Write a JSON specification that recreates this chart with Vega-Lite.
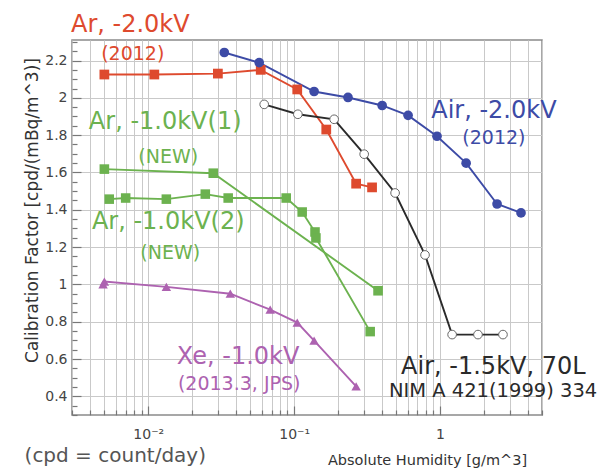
{
  "$schema": "https://vega.github.io/schema/vega-lite/v6.json",
  "autosize": {"type": "none"},
  "padding": {"left": 72, "top": 40, "right": 63, "bottom": 58},
  "width": 470,
  "height": 375,
  "background": "white",
  "config": {
    "font": "DejaVu Sans",
    "view": {"stroke": "#8a8a8a", "strokeWidth": 1.5}
  },
  "datasets": {
    "pts": [
      {"s": "ArA", "x": 0.005, "y": 2.125},
      {"s": "ArA", "x": 0.011, "y": 2.125},
      {"s": "ArA", "x": 0.030, "y": 2.13},
      {"s": "ArA", "x": 0.059, "y": 2.15},
      {"s": "ArA", "x": 0.105, "y": 2.045},
      {"s": "ArA", "x": 0.166, "y": 1.83},
      {"s": "ArA", "x": 0.266, "y": 1.54},
      {"s": "ArA", "x": 0.342, "y": 1.52},
      {"s": "AirA", "x": 0.0332, "y": 2.243},
      {"s": "AirA", "x": 0.0576, "y": 2.189},
      {"s": "AirA", "x": 0.137, "y": 2.034},
      {"s": "AirA", "x": 0.234, "y": 2.002},
      {"s": "AirA", "x": 0.401, "y": 1.959},
      {"s": "AirA", "x": 0.604, "y": 1.906},
      {"s": "AirA", "x": 0.953, "y": 1.794},
      {"s": "AirA", "x": 1.51, "y": 1.65},
      {"s": "AirA", "x": 2.46, "y": 1.431},
      {"s": "AirA", "x": 3.59, "y": 1.383},
      {"s": "AirB", "x": 0.0623, "y": 1.965},
      {"s": "AirB", "x": 0.106, "y": 1.912},
      {"s": "AirB", "x": 0.188, "y": 1.885},
      {"s": "AirB", "x": 0.302, "y": 1.698},
      {"s": "AirB", "x": 0.492, "y": 1.49},
      {"s": "AirB", "x": 0.789, "y": 1.158},
      {"s": "AirB", "x": 1.21, "y": 0.731},
      {"s": "AirB", "x": 1.82, "y": 0.731},
      {"s": "AirB", "x": 2.70, "y": 0.731},
      {"s": "Ar1", "x": 0.0050, "y": 1.618},
      {"s": "Ar1", "x": 0.0279, "y": 1.596},
      {"s": "Ar1", "x": 0.376, "y": 0.966},
      {"s": "Ar2", "x": 0.0054, "y": 1.457},
      {"s": "Ar2", "x": 0.0070, "y": 1.463},
      {"s": "Ar2", "x": 0.0133, "y": 1.457},
      {"s": "Ar2", "x": 0.0246, "y": 1.484},
      {"s": "Ar2", "x": 0.0353, "y": 1.463},
      {"s": "Ar2", "x": 0.0882, "y": 1.463},
      {"s": "Ar2", "x": 0.1135, "y": 1.388},
      {"s": "Ar2", "x": 0.139, "y": 1.281},
      {"s": "Ar2", "x": 0.141, "y": 1.249},
      {"s": "Ar2", "x": 0.332, "y": 0.747},
      {"s": "Xe", "x": 0.0049, "y": 1.0},
      {"s": "Xe", "x": 0.0050, "y": 1.015},
      {"s": "Xe", "x": 0.0133, "y": 0.987},
      {"s": "Xe", "x": 0.0365, "y": 0.95},
      {"s": "Xe", "x": 0.0685, "y": 0.865},
      {"s": "Xe", "x": 0.105, "y": 0.795},
      {"s": "Xe", "x": 0.137, "y": 0.699},
      {"s": "Xe", "x": 0.266, "y": 0.453}
    ],
    "ann": [
      {"s": "ArA", "k": "main", "x": 0.00753, "y": 2.392, "t": "Ar, -2.0kV"},
      {"s": "ArA", "k": "sub", "x": 0.00783, "y": 2.237, "t": "(2012)"},
      {"s": "Ar1", "k": "main", "x": 0.01306, "y": 1.869, "t": "Ar, -1.0kV(1)"},
      {"s": "Ar1", "k": "sub", "x": 0.01371, "y": 1.682, "t": "(NEW)"},
      {"s": "Ar2", "k": "main", "x": 0.0137, "y": 1.335, "t": "Ar, -1.0kV(2)"},
      {"s": "Ar2", "k": "sub", "x": 0.01415, "y": 1.169, "t": "(NEW)"},
      {"s": "Xe", "k": "main", "x": 0.0413, "y": 0.613, "t": "Xe, -1.0kV"},
      {"s": "Xe", "k": "sub", "x": 0.042, "y": 0.464, "t": "(2013.3, JPS)"},
      {"s": "AirA", "k": "main", "x": 2.34, "y": 1.928, "t": "Air, -2.0kV"},
      {"s": "AirA", "k": "sub", "x": 2.34, "y": 1.783, "t": "(2012)"},
      {"s": "AirB", "k": "main", "x": 2.32, "y": 0.555, "t": "Air, -1.5kV, 70L"},
      {"s": "AirB", "k": "ref", "x": 2.31, "y": 0.426, "t": "NIM A 421(1999) 334"},
      {"s": "note", "k": "note", "x": 0.00594, "y": 0.079, "t": "(cpd = count/day)"}
    ]
  },
  "encoding": {
    "x": {
      "field": "x", "type": "quantitative",
      "scale": {"type": "log", "domain": [0.003, 5], "nice": false},
      "axis": {
        "values": [0.003, 0.004, 0.005, 0.006, 0.007, 0.008, 0.009, 0.01, 0.02, 0.03, 0.04, 0.05, 0.06, 0.07, 0.08, 0.09, 0.1, 0.2, 0.3, 0.4, 0.5, 0.6, 0.7, 0.8, 0.9, 1, 2, 3, 4, 5],
        "labelExpr": "datum.value == 0.01 ? '10⁻²' : datum.value == 0.1 ? '10⁻¹' : datum.value == 1 ? '1' : ''",
        "grid": true,
        "gridColor": "#c9c9c9",
        "gridWidth": 1,
        "domain": false,
        "tickColor": "#777",
        "tickWidth": 1.2,
        "tickSize": {"condition": {"test": "datum.value == 0.01 || datum.value == 0.1 || datum.value == 1", "value": -9}, "value": -5},
        "labelPadding": 21,
        "labelFontSize": 14,
        "labelColor": "#444",
        "labelFlush": false,
        "labelOverlap": false,
        "title": "Absolute Humidity [g/m^3]",
        "titleFontSize": 14.5,
        "titleFontWeight": "normal",
        "titleColor": "#333",
        "titleX": 355,
        "titleY": 45,
        "titleAlign": "center",
        "titleBaseline": "middle"
      }
    },
    "y": {
      "field": "y", "type": "quantitative",
      "scale": {"domain": [0.3, 2.31], "nice": false, "zero": false},
      "axis": {
        "values": [0.3, 0.35, 0.4, 0.45, 0.5, 0.55, 0.6, 0.65, 0.7, 0.75, 0.8, 0.85, 0.9, 0.95, 1, 1.05, 1.1, 1.15, 1.2, 1.25, 1.3, 1.35, 1.4, 1.45, 1.5, 1.55, 1.6, 1.65, 1.7, 1.75, 1.8, 1.85, 1.9, 1.95, 2, 2.05, 2.1, 2.15, 2.2, 2.25, 2.3],
        "labelExpr": "abs(datum.value*5 - round(datum.value*5)) < 0.001 ? toString(round(datum.value*10)/10) : ''",
        "grid": true,
        "gridColor": "#c9c9c9",
        "gridOpacity": {"condition": {"test": "abs(datum.value*5 - round(datum.value*5)) < 0.001", "value": 1}, "value": 0},
        "domain": false,
        "tickColor": "#777",
        "tickWidth": 1.2,
        "tickSize": {"condition": {"test": "abs(datum.value*5 - round(datum.value*5)) < 0.001", "value": -9}, "value": -5},
        "labelPadding": 14,
        "labelFontSize": 14,
        "labelColor": "#444",
        "labelFlush": false,
        "labelOverlap": false,
        "title": "Calibration Factor [cpd/(mBq/m^3)]",
        "titleFontSize": 17,
        "titleFontWeight": "normal",
        "titleColor": "#333",
        "titleX": -40,
        "titleY": 170,
        "titleAlign": "center",
        "titleBaseline": "middle"
      }
    },
    "color": {
      "field": "s", "type": "nominal", "legend": null,
      "scale": {
        "domain": ["ArA", "AirA", "AirB", "Ar1", "Ar2", "Xe", "note"],
        "range": ["#de4a2e", "#3d4ba6", "#2a2a2a", "#6cb24f", "#6cb24f", "#ad62b0", "#555555"]
      }
    }
  },
  "layer": [
    {
      "data": {"name": "pts"},
      "mark": {"type": "line", "strokeWidth": 1.9},
      "encoding": {"detail": {"field": "s"}}
    },
    {
      "data": {"name": "pts"},
      "transform": [{"filter": "datum.s != 'AirB'"}],
      "mark": {"type": "point", "filled": true, "opacity": 1},
      "encoding": {
        "shape": {
          "field": "s", "type": "nominal", "legend": null,
          "scale": {"domain": ["ArA", "AirA", "Ar1", "Ar2", "Xe"], "range": ["square", "circle", "square", "square", "triangle-up"]}
        },
        "size": {
          "field": "s", "type": "nominal", "legend": null,
          "scale": {"domain": ["ArA", "AirA", "Ar1", "Ar2", "Xe"], "range": [95, 90, 80, 80, 55]}
        }
      }
    },
    {
      "data": {"name": "pts"},
      "transform": [{"filter": "datum.s == 'AirB'"}],
      "mark": {"type": "point", "filled": false, "shape": "circle", "size": 75, "strokeWidth": 1, "fill": "white", "fillOpacity": 1, "stroke": "#666"}
    },
    {
      "data": {"name": "ann"},
      "transform": [{"filter": "datum.k == 'main'"}],
      "mark": {"type": "text", "fontSize": 24, "align": "center", "baseline": "middle"},
      "encoding": {"text": {"field": "t"}}
    },
    {
      "data": {"name": "ann"},
      "transform": [{"filter": "datum.k == 'sub'"}],
      "mark": {"type": "text", "fontSize": 19, "align": "center", "baseline": "middle"},
      "encoding": {"text": {"field": "t"}}
    },
    {
      "data": {"name": "ann"},
      "transform": [{"filter": "datum.k == 'ref'"}],
      "mark": {"type": "text", "fontSize": 19.5, "align": "center", "baseline": "middle"},
      "encoding": {"text": {"field": "t"}}
    },
    {
      "data": {"name": "ann"},
      "transform": [{"filter": "datum.k == 'note'"}],
      "mark": {"type": "text", "fontSize": 20, "align": "center", "baseline": "middle"},
      "encoding": {"text": {"field": "t"}}
    }
  ]
}
